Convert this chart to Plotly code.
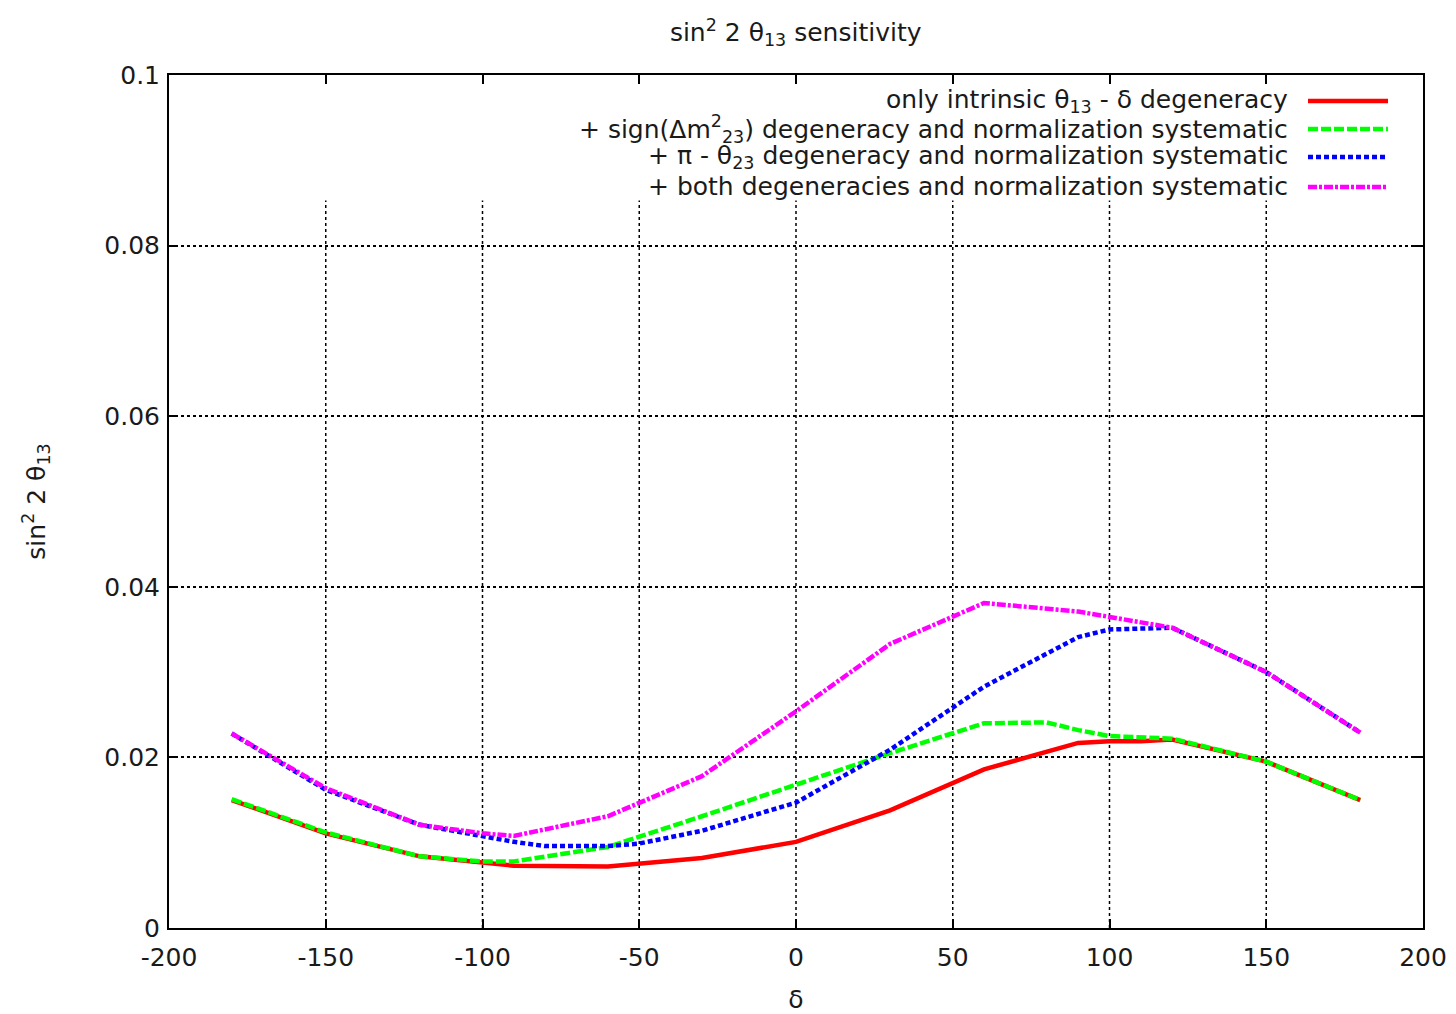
import plotly.graph_objects as go

# sin^2 2θ13 sensitivity versus the CP phase δ (degrees)
delta_intrinsic = [-180, -150, -120, -100, -90, -60, -30, 0, 30, 60, 90, 100, 110, 120, 150, 180]
sens_intrinsic = [0.0150, 0.0111, 0.0084, 0.0077, 0.0073, 0.0072, 0.0082, 0.0101, 0.0138, 0.0186,
                  0.0217, 0.0219, 0.0219, 0.0221, 0.0195, 0.0150]

delta_sign = [-180, -150, -120, -100, -90, -60, -30, 0, 30, 60, 80, 90, 100, 120, 150, 180]
sens_sign = [0.0151, 0.0112, 0.0084, 0.0078, 0.0078, 0.0095, 0.0131, 0.0168, 0.0205, 0.0240,
             0.0241, 0.0232, 0.0225, 0.0222, 0.0195, 0.0150]

delta_octant = [-180, -150, -120, -90, -80, -60, -50, -30, 0, 30, 60, 90, 100, 120, 150, 180]
sens_octant = [0.0228, 0.0162, 0.0121, 0.0101, 0.0096, 0.0096, 0.0099, 0.0114, 0.0147, 0.0209,
               0.0283, 0.0341, 0.0350, 0.0352, 0.0300, 0.0229]

delta_both = [-180, -150, -120, -100, -90, -60, -30, 0, 30, 60, 90, 100, 120, 150, 180]
sens_both = [0.0228, 0.0164, 0.0121, 0.0111, 0.0108, 0.0131, 0.0178, 0.0254, 0.0333, 0.0381,
             0.0371, 0.0365, 0.0352, 0.0300, 0.0229]

series_labels = [
    "only intrinsic θ<sub>13</sub> - δ degeneracy",
    "+ sign(Δm<sup>2</sup><sub>23</sub>) degeneracy and normalization systematic",
    "+ π - θ<sub>23</sub> degeneracy and normalization systematic",
    "+ both degeneracies and normalization systematic",
]

x_ticks = [-200, -150, -100, -50, 0, 50, 100, 150, 200]
x_tick_text = ["-200", "-150", "-100", "-50", "0", "50", "100", "150", "200"]
y_ticks = [0, 0.02, 0.04, 0.06, 0.08, 0.1]
y_tick_text = ["0", "0.02", "0.04", "0.06", "0.08", "0.1"]

FONT = "DejaVu Sans, Verdana, sans-serif"
TEXT = "#1a1a1a"
FS = 25

styles = [
    dict(color="#ff0000", dash="solid"),
    dict(color="#00ff00", dash="10px,3px"),
    dict(color="#0000ff", dash="5px,3px"),
    dict(color="#ff00ff", dash="9px,2px,3px,2px"),
]
series = [
    (delta_intrinsic, sens_intrinsic),
    (delta_sign, sens_sign),
    (delta_octant, sens_octant),
    (delta_both, sens_both),
]

fig = go.Figure()
for (xs, ys), st, name in zip(series, styles, series_labels):
    fig.add_trace(go.Scatter(
        x=xs, y=ys, mode="lines", name=name, showlegend=False,
        line=dict(color=st["color"], width=4.5, dash=st["dash"]),
    ))

# dotted vertical grid, stopping below the key
for xv in x_ticks[1:-1]:
    fig.add_shape(type="line", xref="x", yref="y", x0=xv, x1=xv, y0=0, y1=0.0853,
                  line=dict(color="black", width=1.5, dash="dot"), layer="below")

# key: right-aligned text with line samples on the right
key_rows = [0.9695, 0.9367, 0.9039, 0.8687]
for yk, st, name in zip(key_rows, styles, series_labels):
    fig.add_annotation(x=0.894, y=yk, xref="paper", yref="paper", text=name,
                       showarrow=False, xanchor="right", yanchor="middle",
                       font=dict(family=FONT, size=FS, color=TEXT))
    fig.add_shape(type="line", xref="paper", yref="paper", x0=0.9083, x1=0.9721,
                  y0=yk, y1=yk, line=dict(color=st["color"], width=4.5, dash=st["dash"]))

fig.update_layout(
    width=1456, height=1014,
    margin=dict(l=169, r=33, t=75, b=86),
    paper_bgcolor="white", plot_bgcolor="white",
    font=dict(family=FONT, size=FS, color=TEXT),
    title=dict(text="sin<sup>2</sup> 2 θ<sub>13</sub> sensitivity", x=0.5465, xanchor="center",
               y=0.968, yanchor="middle", font=dict(family=FONT, size=FS, color=TEXT)),
    showlegend=False,
)
fig.update_xaxes(
    range=[-200, 200], tickvals=x_ticks, ticktext=x_tick_text, showgrid=False, zeroline=False,
    showline=True, linecolor="black", linewidth=2, mirror="ticks", automargin=False,
    ticks="inside", ticklen=9, tickwidth=2, tickcolor="black", ticklabelstandoff=6,
    tickfont=dict(family=FONT, size=FS, color=TEXT),
    title=dict(text="δ", font=dict(family=FONT, size=FS, color=TEXT), standoff=26),
)
fig.update_yaxes(
    range=[0, 0.1], tickvals=y_ticks, ticktext=y_tick_text, automargin=False,
    showgrid=True, gridcolor="black", gridwidth=1.5, griddash="dot", zeroline=False,
    showline=True, linecolor="black", linewidth=2, mirror="ticks",
    ticks="inside", ticklen=9, tickwidth=2, tickcolor="black", ticklabelstandoff=2,
    tickfont=dict(family=FONT, size=FS, color=TEXT),
    title=dict(text="sin<sup>2</sup> 2 θ<sub>13</sub>", font=dict(family=FONT, size=FS, color=TEXT),
               standoff=52),
)

fig.write_html("out.html")
